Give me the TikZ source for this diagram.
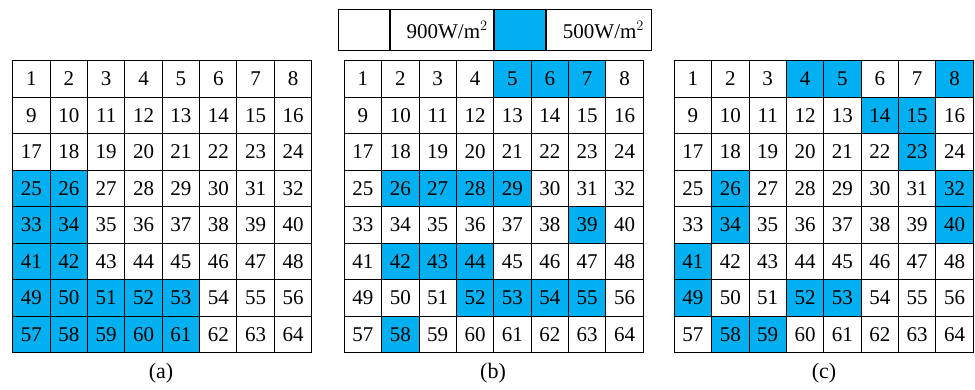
\documentclass[tikz,border=0pt]{standalone}
\usepackage{fontspec}
\setmainfont{Liberation Serif}
\usetikzlibrary{backgrounds}
\definecolor{skyblue}{HTML}{00B0F0}
\begin{document}
\begin{tikzpicture}[x=1pt,y=-1pt,
  txt/.style={font=\fontsize{21}{21}\selectfont},
  cell/.style={txt, draw, line width=1pt, minimum width=37.375pt,
    minimum height=36.5pt, inner sep=0pt, anchor=center},
  legbox/.style={txt, draw, line width=1pt, minimum height=41.7pt,
    inner sep=0pt, anchor=west},
  caption/.style={font=\fontsize{22}{22}\selectfont}]
\useasboundingbox (0,0) rectangle (975,390);

% three 8x8 grids of numbered cells
\foreach \g/\x in {a/12.7, b/344.3, c/674.3} {
  \foreach \i in {1,...,64} {
    \pgfmathtruncatemacro\r{(\i-1)/8}
    \pgfmathtruncatemacro\c{\i-1-8*\r}
    \node[cell] (\g-\i) at ({\x+(\c+0.5)*37.375},{60.7+(\r+0.5)*36.5}) {\i};
  }
}

% blue (500 W/m^2) cells
\begin{scope}[on background layer]
  \foreach \i in {25,26,33,34,41,42,49,50,51,52,53,57,58,59,60,61}
    \fill[skyblue] (a-\i.south west) rectangle (a-\i.north east);
  \foreach \i in {5,6,7,26,27,28,29,39,42,43,44,52,53,54,55,58}
    \fill[skyblue] (b-\i.south west) rectangle (b-\i.north east);
  \foreach \i in {4,5,8,14,15,23,26,32,34,40,41,49,52,53,58,59}
    \fill[skyblue] (c-\i.south west) rectangle (c-\i.north east);
\end{scope}

% legend
\node[legbox, minimum width=51.3pt] (leg1) at (337.7,30.15) {};
\node[legbox, minimum width=103.3pt] (leg2) at (leg1.east) {\hspace*{10pt}900W/m$^2$};
\node[legbox, minimum width=50.4pt, fill=skyblue] (leg3) at (leg2.east) {};
\node[legbox, minimum width=105.6pt] (leg4) at (leg3.east) {\hspace*{9pt}500W/m$^2$};

% captions
\node[caption] (capa) at (161,373) {(a)};
\node[caption] (capb) at (493,373) {(b)};
\node[caption] (capc) at (824,373) {(c)};
\end{tikzpicture}
\end{document}
